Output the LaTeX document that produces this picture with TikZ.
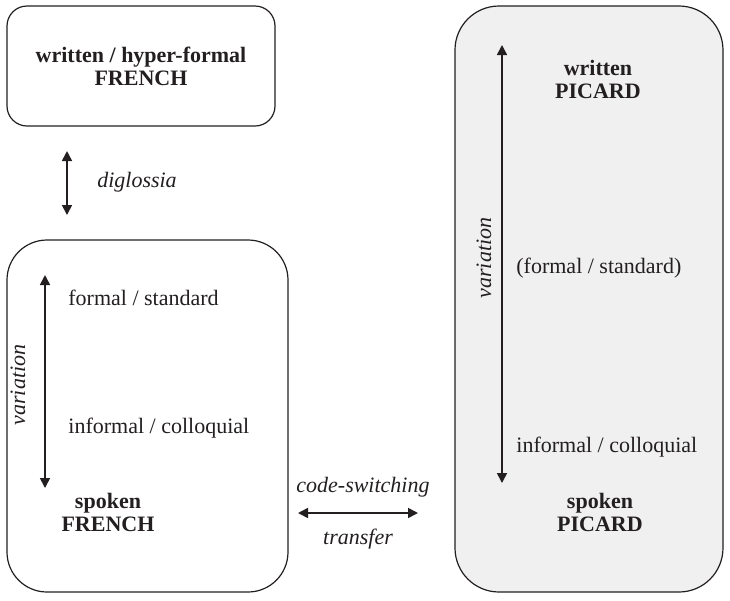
\documentclass[tikz,border=0pt]{standalone}
\usepackage{fontspec}
\setmainfont{Liberation Serif}
\usetikzlibrary{arrows.meta, positioning}
\definecolor{ink}{HTML}{231F20}
\definecolor{shade}{HTML}{F0F0F0}

\begin{document}
\begin{tikzpicture}[x=0.5pt, y=-0.5pt, font=\fontsize{11}{11.5}\selectfont, text=ink,
   panel/.style={rectangle, draw=ink, line width=0.6pt, fill=white, inner sep=0pt},
   title/.style={align=center, font=\fontsize{11}{11.5}\selectfont\bfseries, inner sep=0pt},
   lbl/.style={anchor=west, inner sep=0pt},
   note/.style={font=\fontsize{11}{11.5}\selectfont\itshape, inner sep=0pt},
   ar/.style={{Triangle[length=5pt,width=5pt]}-{Triangle[length=5pt,width=5pt]},
     line width=0.8pt, draw=ink}]
 \useasboundingbox (0,0) rectangle (730,601);
 % left column: French
 \node[panel, title, rounded corners=10pt, minimum width=134pt, minimum height=60pt]
   (hiF) at (141,66) {written / hyper-formal\\FRENCH};
 \node[panel, rounded corners=20pt, minimum width=140.5pt, minimum height=176pt]
   (spF) at (147.5,416) {};
 \coordinate (dgTop) at (67,151); \coordinate (dgBot) at (67,215);
 \draw[ar] (dgTop) -- (dgBot);
 \node[note] (dg) at (137,182) {diglossia};
 \coordinate (vFtop) at (45,275); \coordinate (vFbot) at (45,488);
 \draw[ar] (vFtop) -- (vFbot);
 \node[note, rotate=90] (vF) at (18,385) {variation};
 \node[lbl] (fmF) at (68,298) {formal / standard};
 \node[lbl] (inF) at (68,428) {informal / colloquial};
 \node[title] (spFt) at (108,512) {spoken\\FRENCH};
 % right column: Picard
 \node[panel, fill=shade, rounded corners=22pt, minimum width=134pt, minimum height=293pt]
   (pic) at (589,299) {};
 \coordinate (vPtop) at (502,45); \coordinate (vPbot) at (502,483);
 \draw[ar] (vPtop) -- (vPbot);
 \node[note, rotate=90] (vP) at (484,258) {variation};
 \node[title] (wrP) at (598,79) {written\\PICARD};
 \node[lbl] (fmP) at (516,268) {(formal / standard)};
 \node[lbl] (inP) at (516,447) {informal / colloquial};
 \node[title] (spP) at (600,512) {spoken\\PICARD};
 % contact
 \coordinate (csL) at (298,513); \coordinate (csR) at (418,513);
 \draw[ar] (csL) -- (csR);
 \node[note] (cs) at (363,487) {code-switching};
 \node[note] (tr) at (358,539) {transfer};
\end{tikzpicture}
\end{document}
